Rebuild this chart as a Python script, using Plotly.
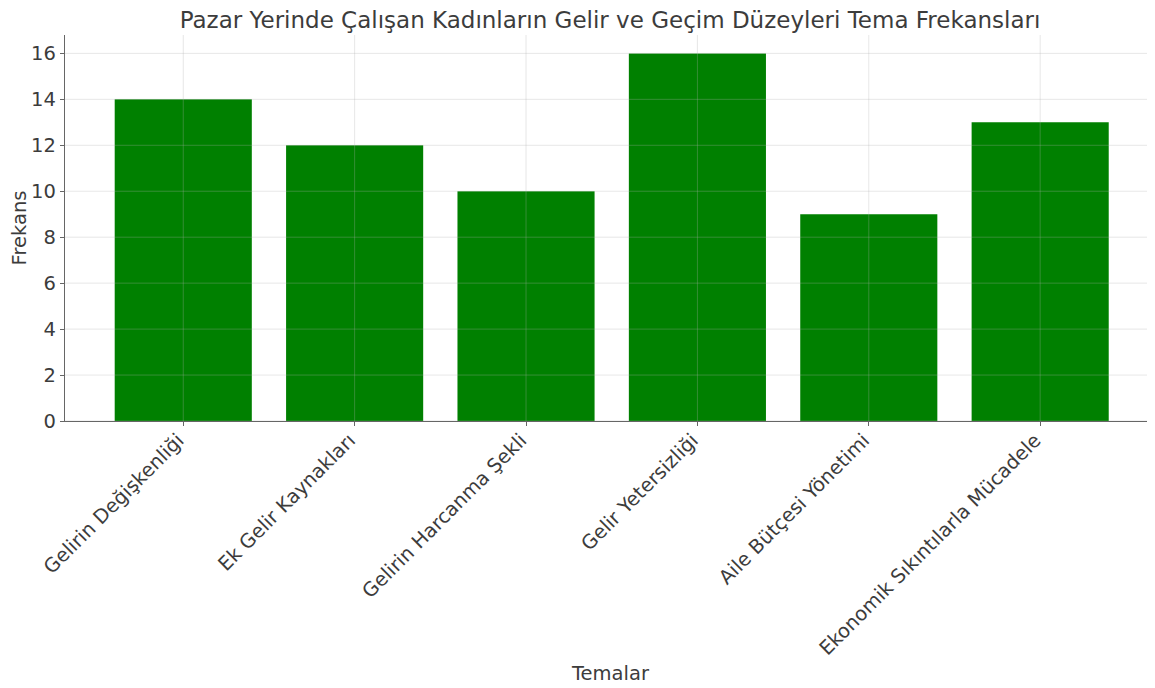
import plotly.graph_objects as go

categories = ["Gelirin Değişkenliği", "Ek Gelir Kaynakları", "Gelirin Harcanma Şekli",
              "Gelir Yetersizliği", "Aile Bütçesi Yönetimi", "Ekonomik Sıkıntılarla Mücadele"]
frequencies = [14, 12, 10, 16, 9, 13]
y_ticks = [0, 2, 4, 6, 8, 10, 12, 14, 16]

title_text = "Pazar Yerinde Çalışan Kadınların Gelir ve Geçim Düzeyleri Tema Frekansları"
x_title = "Temalar"
y_title = "Frekans"
FONT = "DejaVu Sans"
TEXT = "#3c3c3c"
GRID = "rgba(176,176,176,0.30)"
TICK_SIZE = 19.5

# page body has an 8px margin: figure is sized/offset to compensate
W, H = 1147, 680
ML, MT, MR, MB = 57, 27, 0, 267
PLOT_H = H - MT - MB

fig = go.Figure(go.Bar(x=categories, y=frequencies, marker=dict(color="#008000", line=dict(width=0)),
                       width=0.8))

shapes = []
for c in categories:
    shapes.append(dict(type="line", xref="x", yref="paper", x0=c, x1=c, y0=0, y1=1,
                       line=dict(color=GRID, width=1), layer="above"))
for t in y_ticks:
    shapes.append(dict(type="line", xref="paper", yref="y", x0=0, x1=1, y0=t, y1=t,
                       line=dict(color=GRID, width=1), layer="above"))

fig.update_layout(
    width=W, height=H,
    margin=dict(l=ML, r=MR, t=MT, b=MB),
    paper_bgcolor="white", plot_bgcolor="white",
    font=dict(family=FONT, color=TEXT, size=TICK_SIZE),
    title=dict(text=title_text, xref="paper", x=0.5, xanchor="center", yref="container",
               y=1, yanchor="top", pad=dict(t=4),
               font=dict(family=FONT, size=23, color=TEXT)),
    showlegend=False,
    bargap=0.2,
    shapes=shapes,
    annotations=[dict(text=x_title, xref="paper", yref="paper", x=0.5, y=-(665 - (H - MB)) / PLOT_H,
                      xanchor="center", yanchor="middle", showarrow=False,
                      font=dict(family=FONT, size=TICK_SIZE, color=TEXT))],
)
fig.update_xaxes(
    range=[-0.69, 5.67], showgrid=False, showline=True, linecolor="#666666", linewidth=1.3,
    ticks="outside", ticklen=4, tickcolor="#666666", tickangle=-45,
    tickfont=dict(family=FONT, size=TICK_SIZE, color=TEXT),
    ticklabelstandoff=-5, ticklabelshift=-5,
    zeroline=False, layer="above traces", automargin=False,
)
fig.update_yaxes(
    range=[0, 16.8], tickvals=y_ticks, showgrid=False, showline=True, linecolor="#666666",
    linewidth=1.3, ticks="outside", ticklen=4, tickcolor="#666666",
    tickfont=dict(family=FONT, size=TICK_SIZE, color=TEXT),
    title=dict(text=y_title, font=dict(family=FONT, size=TICK_SIZE, color=TEXT), standoff=1),
    zeroline=False, layer="above traces", automargin=False,
)

fig.write_html("out.html")
